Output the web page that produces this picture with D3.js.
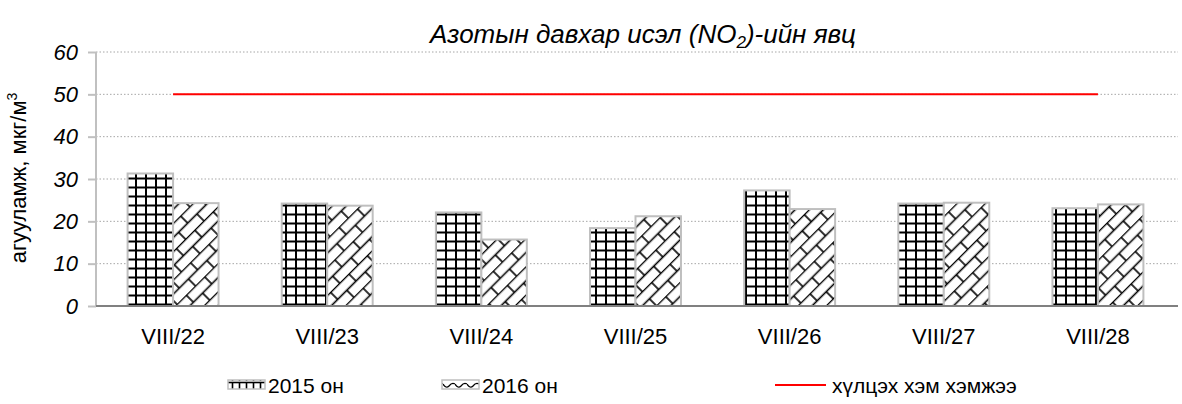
<!DOCTYPE html>
<html><head><meta charset="utf-8">
<script src="https://cdn.jsdelivr.net/npm/d3@7"></script>
<style>body{margin:0;background:#fff}svg{display:block;font-family:Arial,"Liberation Sans",sans-serif}</style>
</head><body><svg id="c" width="1182" height="404"></svg>
<script>
const categories = ["VIII/22","VIII/23","VIII/24","VIII/25","VIII/26","VIII/27","VIII/28"];
const series2015 = [31.3, 24.2, 22.1, 18.4, 27.3, 24.2, 23.1];
const series2016 = [24.3, 23.7, 15.7, 21.2, 22.9, 24.4, 24.0];
const limit = [50, 50, 50, 50, 50, 50, 50];
const yTicks = [0, 10, 20, 30, 40, 50, 60];
const seriesNames = ["2015 он", "2016 он", "хүлцэх хэм хэмжээ"];

const FF = "Arial,'Liberation Sans',sans-serif";
const svg = d3.select("#c");
const L = 96, R = 1175, T = 52, B = 306;
const x = d3.scaleBand().domain(categories).range([L, R]).paddingInner(0.41).paddingOuter(0.205);
const xs = d3.scaleBand().domain(["a","b"]).range([0, x.bandwidth()]);
const y = d3.scaleLinear().domain([0, 60]).range([B, T]);

const defs = svg.append("defs");
const pg = defs.append("pattern").attr("id","grid").attr("patternUnits","userSpaceOnUse")
  .attr("width",10).attr("height",9).attr("x",1).attr("y",3);
pg.append("rect").attr("width",10).attr("height",9).attr("fill","#fff");
pg.append("line").attr("x1",0).attr("x2",10).attr("y1",4.5).attr("y2",4.5).attr("stroke","#000").attr("stroke-width",2);
pg.append("line").attr("x1",5).attr("x2",5).attr("y1",0).attr("y2",9).attr("stroke","#000").attr("stroke-width",2);

const pb = defs.append("pattern").attr("id","brick").attr("patternUnits","userSpaceOnUse")
  .attr("width",26).attr("height",20).attr("patternTransform","rotate(-45)");
pb.append("rect").attr("width",26).attr("height",20).attr("fill","#fff");
pb.append("line").attr("x1",0).attr("x2",26).attr("y1",0.5).attr("y2",0.5).attr("stroke","#000").attr("stroke-width",1.6);
pb.append("line").attr("x1",0).attr("x2",26).attr("y1",10.5).attr("y2",10.5).attr("stroke","#000").attr("stroke-width",1.6);
pb.append("line").attr("x1",1).attr("x2",1).attr("y1",0.5).attr("y2",10.5).attr("stroke","#000").attr("stroke-width",1.6);
pb.append("line").attr("x1",14).attr("x2",14).attr("y1",10.5).attr("y2",20.5).attr("stroke","#000").attr("stroke-width",1.6);

// legend swatch patterns
const lp1 = defs.append("pattern").attr("id","lg1").attr("patternUnits","userSpaceOnUse")
  .attr("width",7).attr("height",20).attr("x",229).attr("y",381);
lp1.append("rect").attr("width",7).attr("height",20).attr("fill","#fff");
lp1.append("line").attr("x1",0).attr("x2",7).attr("y1",1.5).attr("y2",1.5).attr("stroke","#000").attr("stroke-width",1.6);
lp1.append("line").attr("x1",3.5).attr("x2",3.5).attr("y1",1.5).attr("y2",20).attr("stroke","#000").attr("stroke-width",1.6);
const lp2 = defs.append("pattern").attr("id","lg2").attr("patternUnits","userSpaceOnUse")
  .attr("width",12).attr("height",20).attr("x",443).attr("y",381);
lp2.append("rect").attr("width",12).attr("height",20).attr("fill","#fff");
lp2.append("path").attr("d","M0,3 Q3,8 6,5 Q9,1 12,3").attr("fill","none").attr("stroke","#000").attr("stroke-width",1.3);

// grid lines
svg.append("g").selectAll("line").data(yTicks.filter(d=>d>0)).join("line")
  .attr("x1",L).attr("x2",1178).attr("y1",d=>y(d)).attr("y2",d=>y(d))
  .attr("stroke","#a6a6a6").attr("stroke-width",1).attr("stroke-dasharray","1.5,2");

// y axis
const ya = svg.append("g").attr("transform",`translate(${L},0)`)
  .call(d3.axisLeft(y).tickValues(yTicks).tickSize(8).tickPadding(10).tickFormat(d3.format("d")));
ya.select(".domain").attr("stroke","#c0c0c0").attr("stroke-width",2).attr("d",`M0,${T}V${B}`);
ya.selectAll(".tick line").attr("stroke","#c0c0c0").attr("stroke-width",2);
ya.selectAll(".tick text").attr("font-size",22).attr("font-style","italic").attr("fill","#000").attr("font-family",FF);

// bars
const g = svg.append("g");
categories.forEach((c,i)=>{
  g.append("rect").attr("x",x(c)+xs("a")).attr("y",y(series2015[i])).attr("width",xs.bandwidth()).attr("height",B-y(series2015[i]))
    .attr("fill","url(#grid)").attr("stroke","#bfbfbf").attr("stroke-width",2);
  g.append("rect").attr("x",x(c)+xs("b")).attr("y",y(series2016[i])).attr("width",xs.bandwidth()).attr("height",B-y(series2016[i]))
    .attr("fill","url(#brick)").attr("stroke","#bfbfbf").attr("stroke-width",2);
});

// x axis baseline
svg.append("line").attr("x1",L).attr("x2",1178).attr("y1",B).attr("y2",B).attr("stroke","#808080").attr("stroke-width",2);

// x labels
const xa = svg.append("g").attr("transform",`translate(0,${B})`).call(d3.axisBottom(x).tickSize(0).tickPadding(22));
xa.select(".domain").remove();
xa.selectAll("text").attr("font-size",22).attr("fill","#000").attr("font-family",FF);

// limit line
const line = d3.line().x((d,i)=>x(categories[i])+x.bandwidth()/2).y(d=>y(d));
svg.append("path").attr("d",line(limit)).attr("fill","none").attr("stroke","#ff0000").attr("stroke-width",2);

// title
const t = svg.append("text").attr("x",643).attr("y",43).attr("text-anchor","middle").attr("font-size",26).attr("font-style","italic");
t.append("tspan").text("Азотын давхар исэл (NO");
t.append("tspan").text("2").attr("font-size",17).attr("dy",5);
t.append("tspan").text(")-ийн явц").attr("dy",-5);

// y label
const yl = svg.append("text").attr("transform","translate(26,178) rotate(-90)").attr("text-anchor","middle").attr("font-size",22);
yl.append("tspan").text("агууламж, мкг/м");
yl.append("tspan").text("3").attr("font-size",14).attr("dy",-9);

// legend
const lg = svg.append("g");
lg.append("rect").attr("x",228).attr("y",380).attr("width",37).attr("height",9).attr("fill","url(#lg1)").attr("stroke","#bfbfbf").attr("stroke-width",1.5);
lg.append("text").attr("x",268).attr("y",393).attr("font-size",21).text(seriesNames[0]);
lg.append("rect").attr("x",442).attr("y",380).attr("width",37).attr("height",9).attr("fill","url(#lg2)").attr("stroke","#bfbfbf").attr("stroke-width",1.5);
lg.append("text").attr("x",482).attr("y",393).attr("font-size",21).text(seriesNames[1]);
lg.append("line").attr("x1",775).attr("x2",826).attr("y1",385).attr("y2",385).attr("stroke","#ff0000").attr("stroke-width",2);
lg.append("text").attr("x",832).attr("y",393).attr("font-size",21).text(seriesNames[2]);
</script></body></html>
